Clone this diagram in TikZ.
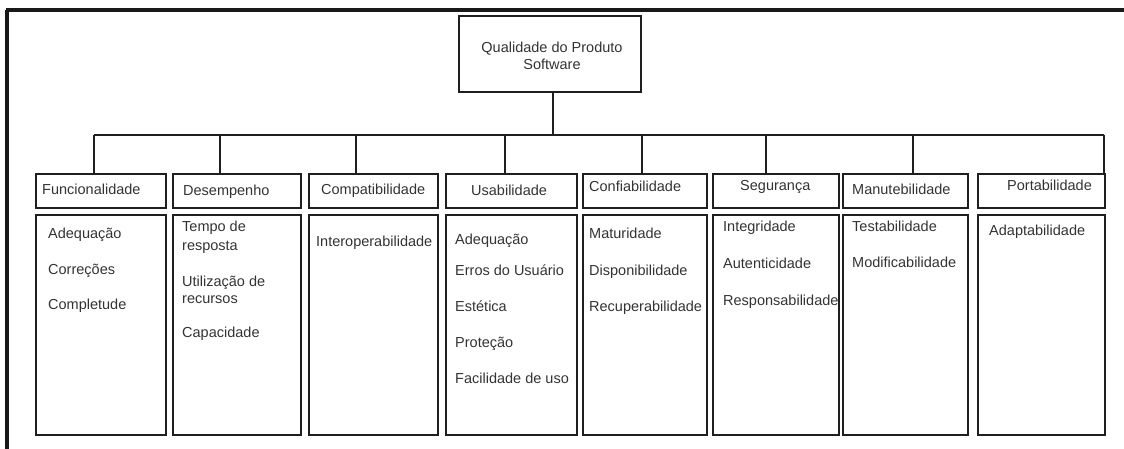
\documentclass[tikz,border=0pt]{standalone}
\usepackage{fontspec}
\setmainfont{Liberation Sans}
\usepackage{tikz}
\usetikzlibrary{positioning}

\tikzset{
  box/.style={draw=black!88, line width=1.6pt, inner sep=0pt, anchor=north west},
  lbl/.style={anchor=base west, inner sep=0pt, text=black!80},
  link/.style={draw=black!88, line width=1.6pt},
  frame/.style={draw=black!90, line width=3.5pt}
}

\begin{document}
\begin{tikzpicture}[x=1pt, y=-1pt, font=\fontsize{14.5}{17}\selectfont]
    \useasboundingbox (0,0) rectangle (1124,449);
    % outer frame
    \draw[frame] (6,10) -- (1124,10);
    \draw[frame] (7,10) -- (7,449);

    % root
    \node[box, minimum width=182, minimum height=76] (root) at (458,15) {};
    \node[lbl, anchor=base] (rootA) at (552,53) {Qualidade do Produto};
    \node[lbl, anchor=base] (rootB) at (552,70) {Software};

    % characteristics and their boxes
    \foreach \id/\xa/\xb/\tx/\ty/\name in {
      func/35/165/42/195/Funcionalidade,
      dese/172/300/183/196/Desempenho,
      comp/308/437/321/195/Compatibilidade,
      usab/445/576/471/196/Usabilidade,
      conf/582/706/589/192/Confiabilidade,
      segu/712/838/740/191/Segurança,
      manu/842/967/852/195/Manutebilidade,
      port/977/1104/1007/191/Portabilidade}
    {
      \node[box, minimum width=\xb-\xa, minimum height=34] (\id) at (\xa,173) {};
      \node[box, minimum width=\xb-\xa, minimum height=220] (\id-low) at (\xa,214) {};
      \node[lbl] (\id-txt) at (\tx,\ty) {\name};
    }

    % sub-characteristics
    \foreach \ix/\iy/\item [count=\k] in {
      48/238/Adequação, 48/274/Correções, 48/309/Completude,
      182/232/Tempo de, 182/250/resposta, 182/286/Utilização de,
      182/303/recursos, 182/337/Capacidade,
      316/246/Interoperabilidade,
      455/244/Adequação, 455/275/Erros do Usuário, 455/311/Estética,
      455/347/Proteção, 455/383/Facilidade de uso,
      589/238/Maturidade, 589/275/Disponibilidade, 589/311/Recuperabilidade,
      723/232/Integridade, 723/268/Autenticidade, 723/305/Responsabilidade,
      852/231/Testabilidade, 852/267/Modificabilidade,
      989/236/Adaptabilidade}
      \node[lbl] (item\k) at (\ix,\iy) {\item};

    % tree lines
    \coordinate (b-root) at (553,135);
    \foreach \id/\bx in {func/94, dese/220, comp/356, usab/505,
                         conf/642, segu/766, manu/913, port/1104}
    {
      \coordinate (b-\id) at (\bx,135);
      \draw[link] (b-\id) -- (b-\id |- \id.north);
    }
    \draw[link] (b-func) -- (b-port);
    \draw[link] (b-root |- root.south) -- (b-root);
\end{tikzpicture}
\end{document}
